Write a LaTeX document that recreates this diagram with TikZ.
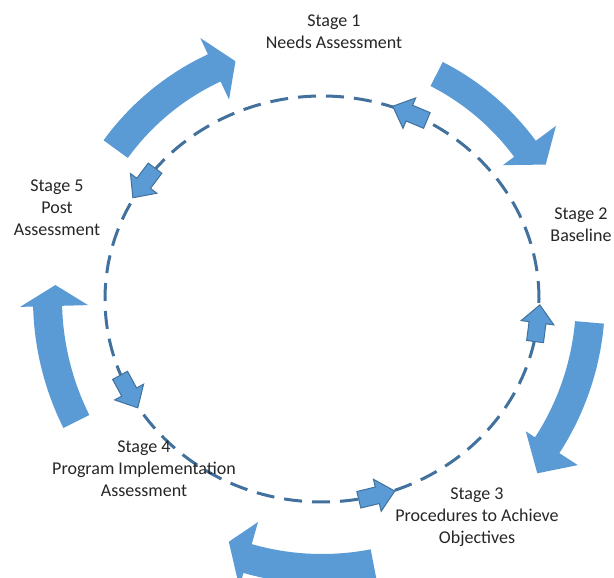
\documentclass[tikz,border=0pt]{standalone}
\usepackage{fontspec}
\setmainfont{Carlito}
\usetikzlibrary{positioning}
\definecolor{stageblue}{HTML}{5B9BD5}
\definecolor{stageline}{HTML}{41719C}
\tikzstyle{bigarrow} = [fill=stageblue]
\tikzstyle{smallarrow} = [fill=stageblue, draw=stageline, line width=1pt, line join=miter]
\tikzstyle{stage} = [align=center, font=\fontsize{18}{22}\selectfont, text=black!85]
\tikzset{smallhead/.pic={
    \path[smallarrow] (-18,-8.5) -- (1,-8.5) -- (1,-16.5) -- (19,0) -- (1,16.5) -- (1,8.5) -- (-18,8.5) -- cycle;
}}

\begin{document}
\begin{tikzpicture}[x=1pt, y=1pt]
    \useasboundingbox (0,0) rectangle (614,578);
    \coordinate (c) at (322,279);

    % Dashed inner cycle
    \draw[stageline, line width=3pt, dash pattern=on 18pt off 10pt] (c) ellipse [x radius=217pt, y radius=203pt];

    % Big outer arrows (clockwise)
    \begin{scope}[shift={(c)}]
        \foreach \t/\b/\p/\ri/\ro/\hi/\ho/\rp in {144/115/110/240/270/220/288/253,
                                                   63/36.5/31/239/266/225/291/261,
                                                   -5/-33/-39/254/283/243/305/277,
                                                   -79/-106/-111/255/285/232/300/260,
                                                   206.5/181.5/177/260/289/234/302/267}
            \fill[bigarrow] (\t:\ro pt) arc[start angle=\t, end angle=\b, radius=\ro pt]
                -- (\b:\ho pt) -- (\p:\rp pt) -- (\b:\hi pt) -- (\b:\ri pt)
                arc[start angle=\b, end angle=\t, radius=\ri pt] -- cycle;
    \end{scope}

    % Small arrows on the dashed cycle (counterclockwise)
    \foreach \t/\n in {66/a, -7/b, -75.5/c, 207/d, 145/e} {
        \pgfmathsetmacro\ang{atan2(203*cos(\t), -217*sin(\t))}
        \pic[rotate=\ang] (\n) at ({322+217*cos(\t)}, {279+203*sin(\t)}) {smallhead};
    }

    % Stage labels
    \node[stage] (s1) at (334,546) {Stage 1\\Needs Assessment};
    \node[stage] (s2) at (581,353) {Stage 2\\Baseline};
    \node[stage] (s3) at (477,61) {Stage 3\\Procedures to Achieve\\Objectives};
    \node[stage] (s4) at (144,109) {Stage 4\\Program Implementation\\Assessment};
    \node[stage] (s5) at (57,370) {Stage 5\\Post\\Assessment};
\end{tikzpicture}
\end{document}
